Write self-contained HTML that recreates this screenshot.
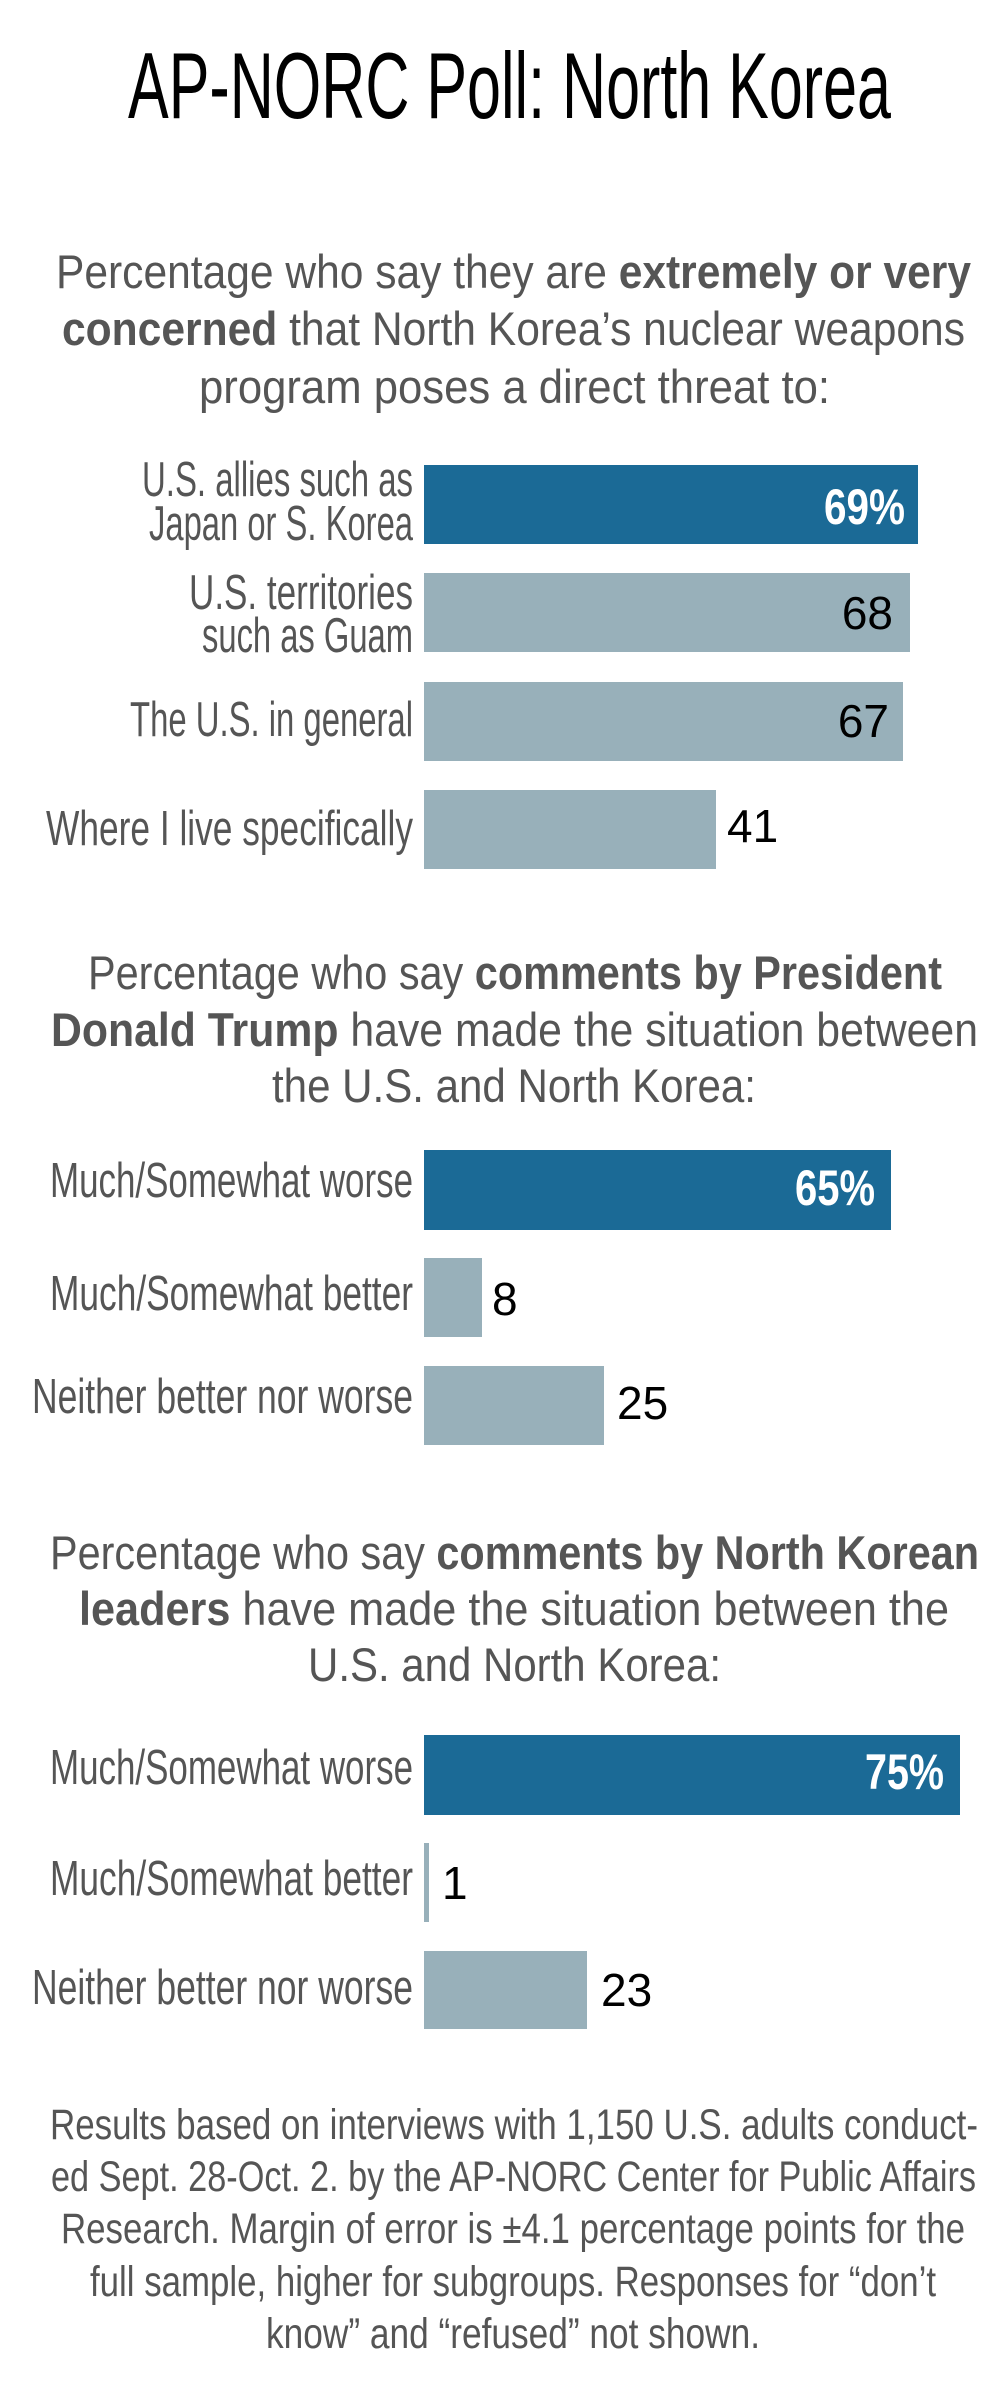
<!DOCTYPE html>
<html><head><meta charset="utf-8"><style>
html,body{margin:0;padding:0;background:#fff;}
svg{display:block;}
.c{font-family:"Liberation Sans Narrow","Liberation Sans",sans-serif;}
.t{fill:#000;font-size:94px;}
.s{fill:#555;font-size:47px;}
.l{fill:#555;font-size:49px;}
.f{fill:#555;font-size:43px;}
.v{font-family:"Liberation Sans",sans-serif;font-size:46px;fill:#000;}
.w{fill:#fff;font-size:50px;font-weight:bold;}
</style></head><body>
<svg width="1000" height="2408" viewBox="0 0 1000 2408" xmlns="http://www.w3.org/2000/svg">
<rect width="1000" height="2408" fill="#fff"/>
<text class="c t" x="128" y="118" textLength="763" lengthAdjust="spacingAndGlyphs">AP-NORC Poll: North Korea</text>

<text class="c s" x="56" y="288" textLength="915" lengthAdjust="spacingAndGlyphs">Percentage who say they are <tspan font-weight="bold">extremely or very</tspan></text>
<text class="c s" x="62" y="345" textLength="903" lengthAdjust="spacingAndGlyphs"><tspan font-weight="bold">concerned</tspan> that North Korea’s nuclear weapons</text>
<text class="c s" x="199" y="403" textLength="631" lengthAdjust="spacingAndGlyphs">program poses a direct threat to:</text>

<rect x="424" y="465" width="494" height="79" fill="#1b6a96"/>
<rect x="424" y="573" width="486" height="79" fill="#98b0ba"/>
<rect x="424" y="682" width="479" height="79" fill="#98b0ba"/>
<rect x="424" y="790" width="292" height="79" fill="#98b0ba"/>
<text class="c l" x="142" y="496" textLength="271" lengthAdjust="spacingAndGlyphs">U.S. allies such as</text>
<text class="c l" x="149" y="540" textLength="264" lengthAdjust="spacingAndGlyphs">Japan or S. Korea</text>
<text class="c l" x="189" y="609" textLength="224" lengthAdjust="spacingAndGlyphs">U.S. territories</text>
<text class="c l" x="202" y="652" textLength="211" lengthAdjust="spacingAndGlyphs">such as Guam</text>
<text class="c l" x="130" y="736" textLength="283" lengthAdjust="spacingAndGlyphs">The U.S. in general</text>
<text class="c l" x="46" y="845" textLength="367" lengthAdjust="spacingAndGlyphs">Where I live specifically</text>
<text class="c w" x="824" y="524" textLength="81" lengthAdjust="spacingAndGlyphs">69%</text>
<text class="v" x="893" y="629" text-anchor="end">68</text>
<text class="v" x="889" y="737" text-anchor="end">67</text>
<text class="v" x="727" y="842">41</text>

<text class="c s" x="88" y="989" textLength="854" lengthAdjust="spacingAndGlyphs">Percentage who say <tspan font-weight="bold">comments by President</tspan></text>
<text class="c s" x="51" y="1046" textLength="927" lengthAdjust="spacingAndGlyphs"><tspan font-weight="bold">Donald Trump</tspan> have made the situation between</text>
<text class="c s" x="272" y="1102" textLength="484" lengthAdjust="spacingAndGlyphs">the U.S. and North Korea:</text>

<rect x="424" y="1150" width="467" height="80" fill="#1b6a96"/>
<rect x="424" y="1258" width="58" height="79" fill="#98b0ba"/>
<rect x="424" y="1366" width="180" height="79" fill="#98b0ba"/>
<text class="c l" x="50" y="1197" textLength="363" lengthAdjust="spacingAndGlyphs">Much/Somewhat worse</text>
<text class="c l" x="50" y="1310" textLength="363" lengthAdjust="spacingAndGlyphs">Much/Somewhat better</text>
<text class="c l" x="32" y="1413" textLength="381" lengthAdjust="spacingAndGlyphs">Neither better nor worse</text>
<text class="c w" x="795" y="1205" textLength="80" lengthAdjust="spacingAndGlyphs">65%</text>
<text class="v" x="492" y="1315">8</text>
<text class="v" x="617" y="1419">25</text>

<text class="c s" x="50" y="1569" textLength="929" lengthAdjust="spacingAndGlyphs">Percentage who say <tspan font-weight="bold">comments by North Korean</tspan></text>
<text class="c s" x="79" y="1625" textLength="870" lengthAdjust="spacingAndGlyphs"><tspan font-weight="bold">leaders</tspan> have made the situation between the</text>
<text class="c s" x="308" y="1681" textLength="413" lengthAdjust="spacingAndGlyphs">U.S. and North Korea:</text>

<rect x="424" y="1735" width="536" height="80" fill="#1b6a96"/>
<rect x="424" y="1843" width="5" height="79" fill="#98b0ba"/>
<rect x="424" y="1951" width="163" height="78" fill="#98b0ba"/>
<text class="c l" x="50" y="1784" textLength="363" lengthAdjust="spacingAndGlyphs">Much/Somewhat worse</text>
<text class="c l" x="50" y="1895" textLength="363" lengthAdjust="spacingAndGlyphs">Much/Somewhat better</text>
<text class="c l" x="32" y="2004" textLength="381" lengthAdjust="spacingAndGlyphs">Neither better nor worse</text>
<text class="c w" x="865" y="1789" textLength="79" lengthAdjust="spacingAndGlyphs">75%</text>
<text class="v" x="442" y="1899">1</text>
<text class="v" x="601" y="2006">23</text>

<text class="c f" x="50" y="2139" textLength="928" lengthAdjust="spacingAndGlyphs">Results based on interviews with 1,150 U.S. adults conduct-</text>
<text class="c f" x="51" y="2191" textLength="925" lengthAdjust="spacingAndGlyphs">ed Sept. 28-Oct. 2. by the AP-NORC Center for Public Affairs</text>
<text class="c f" x="61" y="2243" textLength="904" lengthAdjust="spacingAndGlyphs">Research. Margin of error is ±4.1 percentage points for the</text>
<text class="c f" x="90" y="2296" textLength="846" lengthAdjust="spacingAndGlyphs">full sample, higher for subgroups. Responses for “don’t</text>
<text class="c f" x="266" y="2348" textLength="494" lengthAdjust="spacingAndGlyphs">know” and “refused” not shown.</text>
</svg>
</body></html>
